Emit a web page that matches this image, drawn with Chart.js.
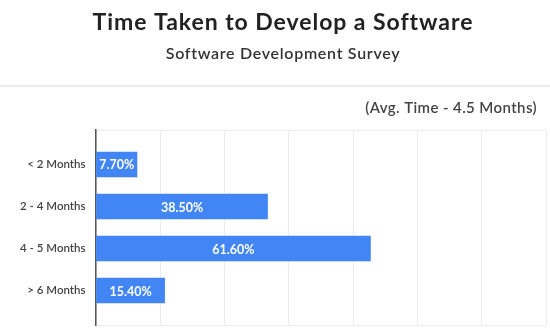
<!DOCTYPE html>
<html>
<head>
<meta charset="utf-8">
<script src="https://cdn.jsdelivr.net/npm/chart.js@4.4.0/dist/chart.umd.min.js"></script>
<style>
  html, body { margin: 0; padding: 0; background: #ffffff; }
  #wrap { position: relative; width: 550px; height: 329px; }
</style>
</head>
<body>
<div id="wrap"><canvas id="c" width="550" height="329"></canvas></div>
<script>
const titleText = 'Time Taken to Develop a Software';
const subtitleText = 'Software Development Survey';
const noteText = '(Avg. Time - 4.5 Months)';
const categories = ['< 2 Months', '2 - 4 Months', '4 - 5 Months', '> 6 Months'];
const values = [7.7, 38.5, 61.6, 15.4];
const xMax = 101;
const gridCount = 7;
const yMin = -0.82;
const yMax = 3.82;

const FONT = 'Lato, "Open Sans", sans-serif';

function drawText(ctx, text, x, y, font, color, align, spacing) {
  ctx.save();
  ctx.font = font;
  ctx.fillStyle = color;
  ctx.textAlign = align;
  ctx.textBaseline = 'alphabetic';
  if ('letterSpacing' in ctx) ctx.letterSpacing = spacing + 'px';
  ctx.fillText(text, x, y);
  ctx.restore();
}

const headerPlugin = {
  id: 'header',
  afterDraw(chart) {
    const ctx = chart.ctx;
    drawText(ctx, titleText, 283, 29.5, '700 23px ' + FONT, '#222222', 'center', 0.95);
    drawText(ctx, subtitleText, 283, 59, '600 16px ' + FONT, '#333333', 'center', 0.7);
    ctx.save();
    ctx.strokeStyle = '#e6e6e6';
    ctx.lineWidth = 1.5;
    ctx.beginPath();
    ctx.moveTo(0, 86);
    ctx.lineTo(chart.width, 86);
    ctx.stroke();
    ctx.restore();
    drawText(ctx, noteText, 537, 113, '600 15px ' + FONT, '#444444', 'right', 0.4);
  }
};

const barLabelPlugin = {
  id: 'barLabels',
  afterDatasetsDraw(chart) {
    const ctx = chart.ctx;
    const meta = chart.getDatasetMeta(0);
    ctx.save();
    ctx.fillStyle = '#ffffff';
    ctx.font = '700 12.5px ' + FONT;
    ctx.textAlign = 'center';
    ctx.textBaseline = 'middle';
    meta.data.forEach((bar, i) => {
      const cx = (bar.base + bar.x) / 2;
      ctx.fillText(values[i].toFixed(2) + '%', cx, bar.y + 1);
    });
    ctx.restore();
  }
};

new Chart(document.getElementById('c'), {
  type: 'bar',
  data: {
    datasets: [{
      data: categories.map((c, i) => ({ x: values[i], y: i })),
      backgroundColor: '#4285f4',
      borderWidth: 0,
      barThickness: 25,
      minBarLength: 41
    }]
  },
  options: {
    indexAxis: 'y',
    responsive: false,
    animation: false,
    devicePixelRatio: 1,
    layout: { padding: { left: 19, right: 4, top: 130, bottom: 4 } },
    plugins: {
      legend: { display: false },
      tooltip: { enabled: false },
      title: { display: false },
      subtitle: { display: false }
    },
    scales: {
      x: {
        type: 'linear',
        position: 'bottom',
        min: 0,
        max: xMax,
        afterBuildTicks(scale) {
          const t = [];
          for (let i = 0; i <= gridCount; i++) t.push({ value: i * xMax / gridCount });
          scale.ticks = t;
        },
        afterFit(scale) { scale.height = 0; scale.paddingLeft = 0; scale.paddingRight = 0; },
        ticks: { display: false },
        grid: { color: '#ececec', lineWidth: 1, drawTicks: false },
        border: { display: true, color: '#ececec', width: 1 }
      },
      y: {
        type: 'linear',
        reverse: true,
        offset: false,
        min: yMin,
        max: yMax,
        afterBuildTicks(scale) {
          const t = [{ value: yMin }];
          categories.forEach((c, i) => t.push({ value: i }));
          t.push({ value: yMax });
          scale.ticks = t;
        },
        afterFit(scale) { scale.width = 77; scale.paddingTop = 0; scale.paddingBottom = 0; },
        ticks: {
          padding: 10.5,
          color: '#444444',
          font: { family: FONT, size: 11.5, weight: '600' },
          callback(value) {
            return Number.isInteger(value) ? categories[value] : '';
          }
        },
        grid: {
          offset: false,
          drawTicks: false,
          color(ctx) {
            return ctx.tick && ctx.tick.value === yMin ? '#ececec' : 'rgba(0,0,0,0)';
          }
        },
        border: { display: true, color: '#555555', width: 1.5 }
      }
    }
  },
  plugins: [headerPlugin, barLabelPlugin]
});
</script>
</body>
</html>
